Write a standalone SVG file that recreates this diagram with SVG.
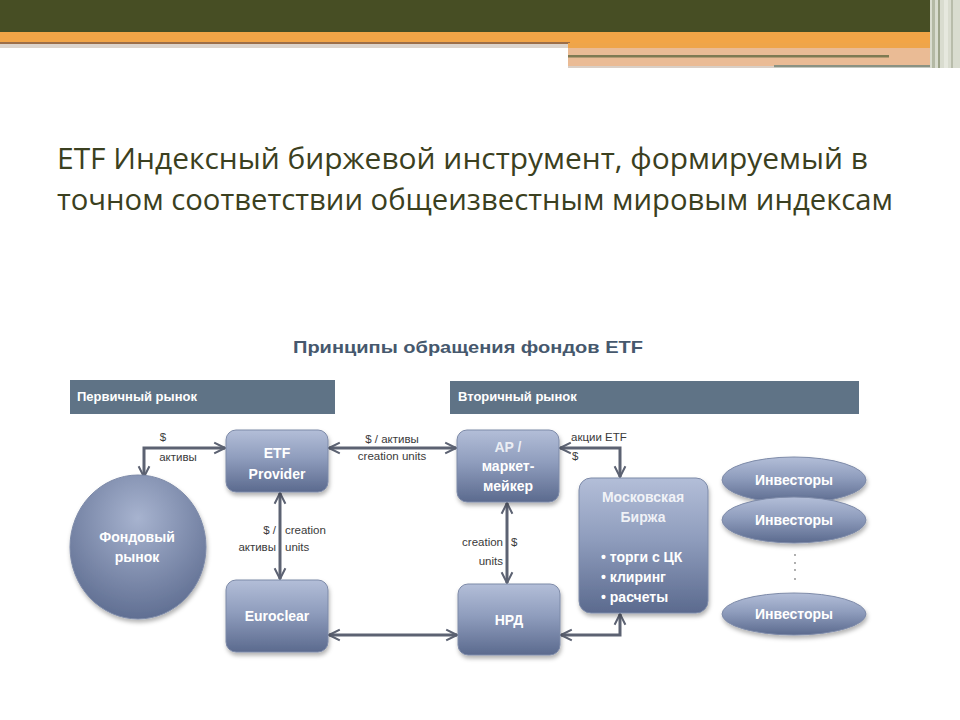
<svg xmlns="http://www.w3.org/2000/svg" width="960" height="720" viewBox="0 0 960 720">
<defs>
<linearGradient id="ng" x1="0" y1="0" x2="0" y2="1">
<stop offset="0" stop-color="#b3bed8"/>
<stop offset="0.45" stop-color="#8f9dbd"/>
<stop offset="1" stop-color="#5b6a8e"/>
</linearGradient>
<radialGradient id="cg" cx="0.5" cy="0.3" r="0.75">
<stop offset="0" stop-color="#a7b3cf"/>
<stop offset="1" stop-color="#5b6a8e"/>
</radialGradient>
<filter id="sh" x="-20%" y="-20%" width="140%" height="150%">
<feDropShadow dx="1" dy="3" stdDeviation="2" flood-color="#000" flood-opacity="0.3"/>
</filter>
<marker id="ah" viewBox="0 0 10 10" refX="9" refY="5" markerWidth="4.5" markerHeight="4.5" orient="auto-start-reverse" markerUnits="strokeWidth">
<path d="M1,1 L9,5 L1,9" fill="none" stroke="#5c6272" stroke-width="1.5"/>
</marker>
<style>
.node{fill:url(#ng);stroke:#7d8aa8;stroke-width:1;filter:url(#sh)}
.nt{font-family:"Liberation Sans",Arial,sans-serif;font-weight:bold;font-size:14px;fill:#ffffff;text-anchor:middle}
.bt{font-family:"Liberation Sans",Arial,sans-serif;font-weight:bold;font-size:14px;fill:#ffffff;text-anchor:start}
.hb{fill:#5f7386}
.ht{font-family:"Liberation Sans",Arial,sans-serif;font-weight:bold;font-size:13px;fill:#ffffff}
.con{fill:none;stroke:#5c6272;stroke-width:3;marker-start:url(#ah);marker-end:url(#ah)}
.lb{font-family:"Liberation Sans",Arial,sans-serif;font-size:11.5px;fill:#3a3a3a}
.title{font-family:"Open Sans","DejaVu Sans",sans-serif;font-size:30px;fill:#3b4020}
</style>
</defs>
<rect width="960" height="720" fill="#ffffff"/>
<g id="header">
<rect x="0" y="0" width="932" height="32" fill="#474e24"/>
<rect x="0" y="32" width="936" height="11" fill="#f2a547"/>
<rect x="0" y="42" width="570" height="2" fill="#9c6e48"/>
<rect x="0" y="44" width="570" height="4" fill="#dcd4cc"/>
<rect x="568" y="43" width="368" height="5" fill="#efa54a"/>
<rect x="568" y="48" width="368" height="19" fill="#eabb95"/>
<rect x="568" y="55" width="321" height="2.5" fill="#7f7a52"/>
<rect x="568" y="66" width="206" height="2" fill="#d9cfc6"/>
<rect x="774" y="65" width="168" height="2.5" fill="#8a9283"/>
<rect x="930" y="0" width="30" height="68" fill="#d9dccf"/>
<rect x="932" y="0" width="3" height="68" fill="#b4b9a4"/>
<rect x="938" y="0" width="2" height="68" fill="#9ea48a"/>
<rect x="944" y="0" width="4" height="68" fill="#e6e8de"/>
<rect x="951" y="0" width="2" height="68" fill="#b8bcaa"/>
</g>
<text class="title" x="57" y="169" textLength="811" lengthAdjust="spacingAndGlyphs">ETF Индексный биржевой инструмент, формируемый в</text>
<text class="title" x="57" y="210" textLength="836" lengthAdjust="spacingAndGlyphs">точном соответствии общеизвестным мировым индексам</text>
<text x="468" y="353" text-anchor="middle" font-family="Liberation Sans,Arial,sans-serif" font-weight="bold" font-size="17" fill="#46586d" textLength="350" lengthAdjust="spacingAndGlyphs">Принципы обращения фондов ETF</text>
<g id="primary-header">
<rect class="hb" x="70" y="380" width="265" height="34"/>
<text class="ht" x="77" y="401">Первичный рынок</text>
</g>
<g id="secondary-header">
<rect class="hb" x="450" y="381" width="409" height="33"/>
<text class="ht" x="458" y="401">Вторичный рынок</text>
</g>
<g id="connectors">
<path class="con" d="M144,477 V448 H225"/>
<path class="con" d="M329,448 H456"/>
<path class="con" d="M280,493 V579"/>
<path class="con" d="M329,635 H457"/>
<path class="con" d="M507,503 V583"/>
<path class="con" d="M560,448 H620 V477"/>
<path class="con" d="M561,635 H620 V614"/>
</g>
<g id="labels">
<text class="lb" x="163" y="441" text-anchor="middle">$</text>
<text class="lb" x="178" y="461" text-anchor="middle">активы</text>
<text class="lb" x="392" y="443" text-anchor="middle">$ / активы</text>
<text class="lb" x="392" y="460" text-anchor="middle">creation units</text>
<text class="lb" x="276" y="534" text-anchor="end">$ /</text>
<text class="lb" x="285" y="534">creation</text>
<text class="lb" x="276" y="551" text-anchor="end">активы</text>
<text class="lb" x="285" y="551">units</text>
<text class="lb" x="503" y="546" text-anchor="end">creation</text>
<text class="lb" x="511" y="546">$</text>
<text class="lb" x="503" y="565" text-anchor="end">units</text>
<text class="lb" x="571" y="441">акции ETF</text>
<text class="lb" x="572" y="460">$</text>
</g>
<g id="fondovy-rynok">
<ellipse cx="138" cy="547" rx="68" ry="72" fill="url(#cg)" stroke="#7d8aa8" filter="url(#sh)"/>
<text class="nt" x="137" y="542">Фондовый</text>
<text class="nt" x="137" y="562">рынок</text>
</g>
<g id="etf-provider">
<rect class="node" x="226" y="430" width="102" height="62" rx="10"/>
<text class="nt" x="277" y="458">ETF</text>
<text class="nt" x="277" y="479">Provider</text>
</g>
<g id="euroclear">
<rect class="node" x="226" y="580" width="102" height="72" rx="10"/>
<text class="nt" x="277" y="621">Euroclear</text>
</g>
<g id="ap-market-maker">
<rect class="node" x="457" y="430" width="102" height="72" rx="10"/>
<text class="nt" x="508" y="452" fill-opacity="0.8">AP /</text>
<text class="nt" x="508" y="471">маркет-</text>
<text class="nt" x="508" y="491">мейкер</text>
</g>
<g id="nrd">
<rect class="node" x="458" y="584" width="102" height="71" rx="10"/>
<text class="nt" x="509" y="625">НРД</text>
</g>
<g id="moex">
<rect class="node" x="579" y="478" width="129" height="135" rx="12"/>
<text class="nt" x="643" y="502" fill-opacity="0.85">Московская</text>
<text class="nt" x="643" y="522" fill-opacity="0.85">Биржа</text>
<text class="bt" x="601" y="562">• торги  с ЦК</text>
<text class="bt" x="601" y="582">• клиринг</text>
<text class="bt" x="601" y="602">• расчеты</text>
</g>
<g id="investors-1">
<ellipse cx="794" cy="480" rx="72" ry="23" fill="url(#ng)" stroke="#7d8aa8" filter="url(#sh)"/>
<text class="nt" x="794" y="485">Инвесторы</text>
</g>
<g id="investors-2">
<ellipse cx="794" cy="520" rx="72" ry="23" fill="url(#ng)" stroke="#7d8aa8" filter="url(#sh)"/>
<text class="nt" x="794" y="525">Инвесторы</text>
</g>
<g id="dots" fill="#8a8a8a">
<circle cx="795" cy="555" r="0.9"/>
<circle cx="795" cy="563" r="0.9"/>
<circle cx="795" cy="570" r="0.9"/>
<circle cx="795" cy="579" r="0.9"/>
</g>
<g id="investors-3">
<ellipse cx="794" cy="614" rx="72" ry="21" fill="url(#ng)" stroke="#7d8aa8" filter="url(#sh)"/>
<text class="nt" x="794" y="619">Инвесторы</text>
</g>
</svg>
